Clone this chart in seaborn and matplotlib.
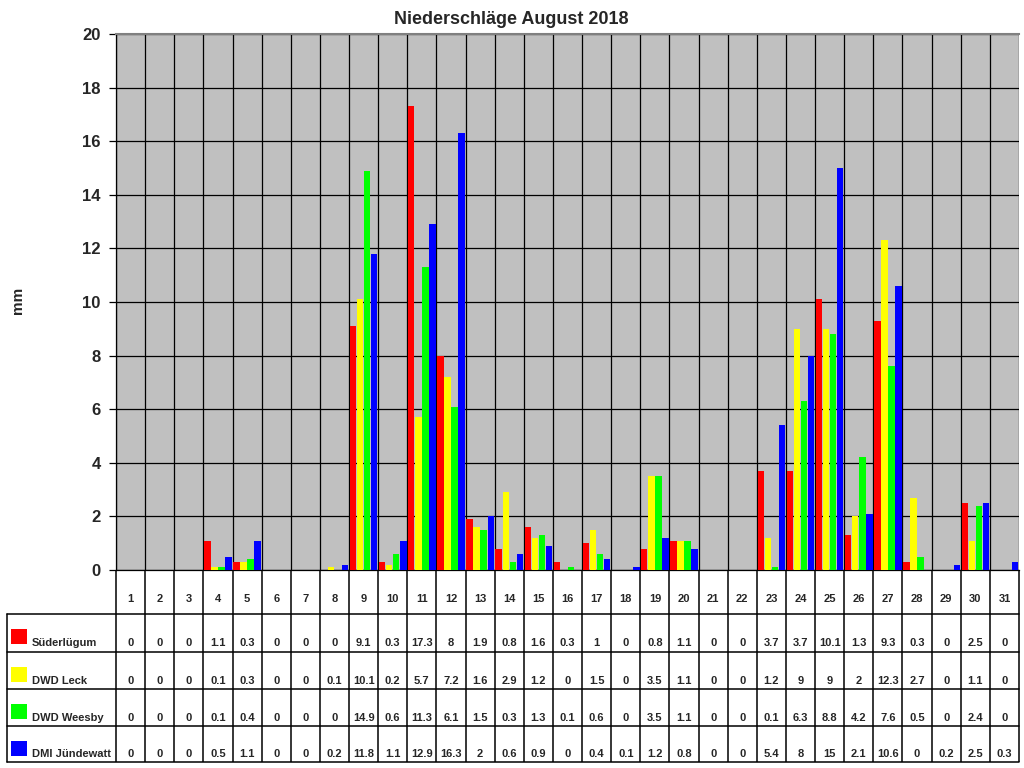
import matplotlib
matplotlib.use("Agg")
import matplotlib.pyplot as plt
import seaborn as sns
import pandas as pd
import numpy as np

days = [str(d) for d in range(1, 32)]
stations = ["Süderlügum", "DWD Leck", "DWD Weesby", "DMI Jündewatt"]
colors = ["#FF0000", "#FFFF00", "#00FF00", "#0000FF"]

suederluegum = [0, 0, 0, 1.1, 0.3, 0, 0, 0, 9.1, 0.3, 17.3, 8, 1.9, 0.8, 1.6, 0.3,
                1, 0, 0.8, 1.1, 0, 0, 3.7, 3.7, 10.1, 1.3, 9.3, 0.3, 0, 2.5, 0]
dwd_leck = [0, 0, 0, 0.1, 0.3, 0, 0, 0.1, 10.1, 0.2, 5.7, 7.2, 1.6, 2.9, 1.2, 0,
            1.5, 0, 3.5, 1.1, 0, 0, 1.2, 9, 9, 2, 12.3, 2.7, 0, 1.1, 0]
dwd_weesby = [0, 0, 0, 0.1, 0.4, 0, 0, 0, 14.9, 0.6, 11.3, 6.1, 1.5, 0.3, 1.3, 0.1,
              0.6, 0, 3.5, 1.1, 0, 0, 0.1, 6.3, 8.8, 4.2, 7.6, 0.5, 0, 2.4, 0]
dmi_juendewatt = [0, 0, 0, 0.5, 1.1, 0, 0, 0.2, 11.8, 1.1, 12.9, 16.3, 2, 0.6, 0.9, 0,
                  0.4, 0.1, 1.2, 0.8, 0, 0, 5.4, 8, 15, 2.1, 10.6, 0, 0.2, 2.5, 0.3]
series = [suederluegum, dwd_leck, dwd_weesby, dmi_juendewatt]

rows = []
for name, vals in zip(stations, series):
    for d, v in zip(days, vals):
        rows.append({"Tag": d, "Station": name, "mm": v})
df = pd.DataFrame(rows)

sns.set_theme(style="white")
plt.rcParams["font.family"] = ["Liberation Sans", "DejaVu Sans"]
plt.rcParams["font.weight"] = "bold"

W, H = 1024, 768
fig = plt.figure(figsize=(W / 100, H / 100), dpi=100)

# plot area in pixels
L, R, T, B = 116, 1019, 34, 570
ax = fig.add_axes([L / W, 1 - B / H, (R - L) / W, (B - T) / H])
ax.set_facecolor("#C0C0C0")

sns.barplot(data=df, x="Tag", y="mm", hue="Station", order=days, hue_order=stations,
            palette=colors, width=0.97, gap=0.1, saturation=1, linewidth=0,
            legend=False, ax=ax, zorder=3)

glw = 0.9
ax.set_xlim(-0.5, len(days) - 0.5)
ax.set_ylim(0, 20)
ax.set_yticks(np.arange(0, 21, 2))
ax.set_yticklabels([str(v) for v in range(0, 21, 2)], fontsize=12, fontweight="bold")
ax.set_xticks(np.arange(-0.5, len(days), 1.0), minor=True)
ax.set_xticks([])
ax.tick_params(axis="y", length=5, width=glw, color="black", left=True, pad=6)
ax.tick_params(axis="x", which="both", length=0)
ax.grid(axis="y", which="major", color="black", linewidth=glw, zorder=1)
ax.grid(axis="x", which="minor", color="black", linewidth=glw, zorder=1)
ax.set_axisbelow(True)
ax.set_xlabel("")
ax.set_ylabel("")
ax.spines["top"].set_color("#808080")
ax.spines["top"].set_linewidth(1.5)
ax.spines["right"].set_visible(False)
ax.spines["left"].set_color("black")
ax.spines["left"].set_linewidth(glw)
ax.spines["bottom"].set_color("black")
ax.spines["bottom"].set_linewidth(glw)

fig.text(511 / W, 1 - 20 / H, "Niederschläge August 2018", ha="center", va="center",
         fontsize=13, fontweight="bold")
fig.text(18 / W, 1 - 300 / H, "mm", ha="center", va="center", rotation=90,
         fontsize=11, fontweight="bold")

# table overlay in pixel coordinates
tab = fig.add_axes([0, 0, 1, 1], facecolor="none")
tab.set_xlim(0, W)
tab.set_ylim(H, 0)
tab.axis("off")

n = len(days)
cw = (R - L) / n
col_edges = [L + k * cw for k in range(n + 1)]
row_y = [570, 614, 651.5, 689, 726, 762]
TL = 7
lw = 1.1

for x in col_edges:
    tab.plot([x, x], [row_y[0], row_y[-1]], color="black", lw=lw, solid_capstyle="butt")
tab.plot([TL, TL], [row_y[1], row_y[-1]], color="black", lw=lw)
for y in row_y[1:]:
    tab.plot([TL, R], [y, y], color="black", lw=lw)

for i, d in enumerate(days):
    xc = L + (i + 0.5) * cw
    tab.text(xc, 602, d, ha="center", va="baseline", fontsize=8, fontweight="bold")

def fmt(v):
    return str(int(v)) if float(v).is_integer() else f"{v:g}"

for r, (name, vals, c) in enumerate(zip(stations, series, colors)):
    y0, y1 = row_y[r + 1], row_y[r + 2]
    tab.add_patch(plt.Rectangle((11, y0 + 15), 16, 15, facecolor=c, edgecolor="none"))
    tab.text(32, y1 - 5, name, ha="left", va="baseline", fontsize=8, fontweight="bold")
    for i, v in enumerate(vals):
        xc = L + (i + 0.5) * cw
        tab.text(xc, y1 - 5, fmt(v), ha="center", va="baseline", fontsize=8,
                 fontweight="bold")

fig.savefig("out.png", dpi=100)
